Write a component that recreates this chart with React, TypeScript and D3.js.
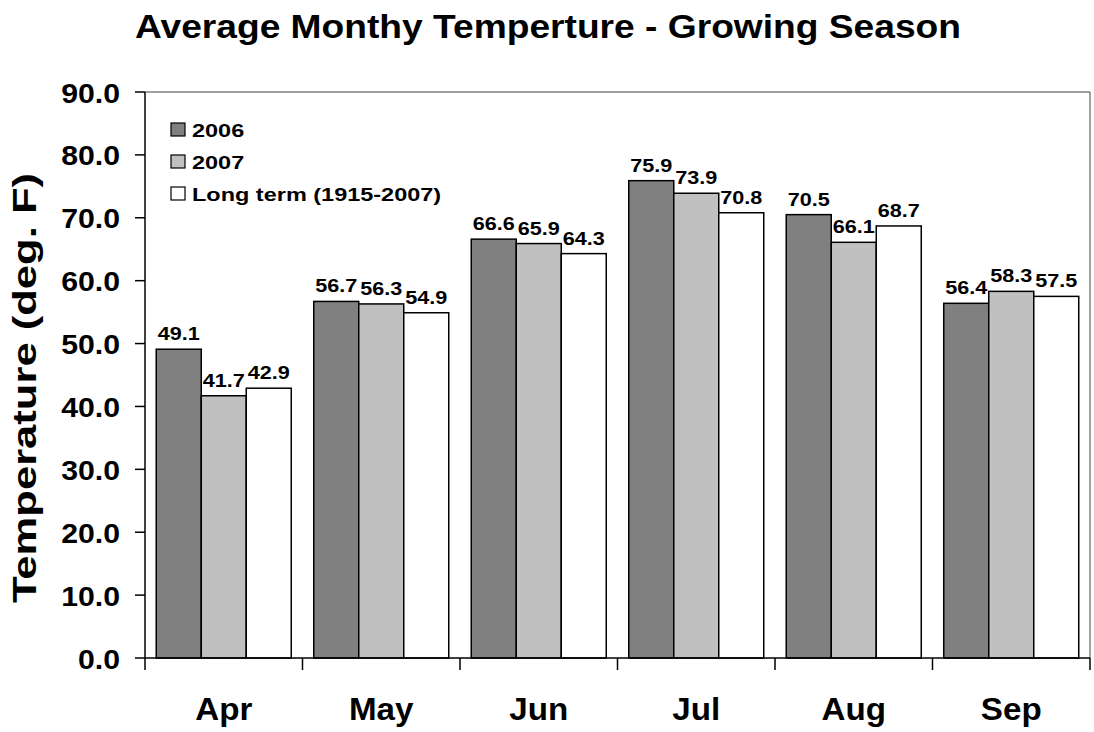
import React from "react";
import * as d3 from "d3";

const months = ["Apr", "May", "Jun", "Jul", "Aug", "Sep"];
const seriesNames = ["2006", "2007", "Long term (1915-2007)"];
const values2006 = [49.1, 56.7, 66.6, 75.9, 70.5, 56.4];
const values2007 = [41.7, 56.3, 65.9, 73.9, 66.1, 58.3];
const valuesLong = [42.9, 54.9, 64.3, 70.8, 68.7, 57.5];
const yTicks = [0, 10, 20, 30, 40, 50, 60, 70, 80, 90];
const colors = ["#808080", "#c0c0c0", "#ffffff"];

const W = 1094, H = 732;
const left = 145, right = 1090, top = 92, bottom = 658;
const font = "Arial, 'Liberation Sans', sans-serif";

function SText({ x, y, sx = 1, size, anchor = "start", children }: any) {
  return (
    <g transform={`translate(${x},${y}) scale(${sx},1)`}>
      <text x={0} y={0} textAnchor={anchor} fontFamily={font} fontWeight="bold" fontSize={size}>
        {children}
      </text>
    </g>
  );
}

export default function App() {
  const series = [values2006, values2007, valuesLong];
  const x0 = d3.scaleBand().domain(months).range([left, right]).paddingInner(0).paddingOuter(0);
  const y = d3.scaleLinear().domain([0, 90]).range([bottom, top]);
  const bw = x0.bandwidth() * (135 / 157.5) / 3;

  return (
    <svg width={W} height={H} style={{ position: "absolute", left: 0, top: 0, background: "#fff" }}>
      <rect x={0} y={0} width={W} height={H} fill="#fff" />
      <text x={135} y={38} fontFamily={font} fontWeight="bold" fontSize={34} textLength={826} lengthAdjust="spacingAndGlyphs">
        Average Monthy Temperture - Growing Season
      </text>
      {/* plot frame */}
      <line x1={left} x2={right} y1={top} y2={top} stroke="#808080" strokeWidth={1.5} />
      <line x1={right} x2={right} y1={top} y2={bottom} stroke="#808080" strokeWidth={1.5} />
      {/* bars */}
      {months.map((m, i) =>
        series.map((s, j) => {
          const gx = x0(m)! + (x0.bandwidth() - 3 * bw) / 2 + j * bw;
          return (
            <g key={m + j}>
              <rect x={gx} y={y(s[i])} width={bw} height={bottom - y(s[i])} fill={colors[j]} stroke="#000" strokeWidth={1.5} />
              <SText x={gx + bw / 2} y={y(s[i]) - 9} sx={1.17} size={18.5} anchor="middle">
                {s[i].toFixed(1)}
              </SText>
            </g>
          );
        })
      )}
      {/* axes */}
      <line x1={left} x2={left} y1={top} y2={bottom + 12} stroke="#000" strokeWidth={1.5} />
      <line x1={left} x2={right} y1={bottom} y2={bottom} stroke="#000" strokeWidth={1.5} />
      {yTicks.map((t) => (
        <g key={t}>
          <line x1={left - 10} x2={left} y1={y(t)} y2={y(t)} stroke="#000" strokeWidth={1.5} />
          <SText x={120} y={y(t) + 10.5} sx={1.1} size={27.5} anchor="end">
            {t.toFixed(1)}
          </SText>
        </g>
      ))}
      {months.map((m) => (
        <g key={m}>
          <line x1={x0(m)! + x0.bandwidth()} x2={x0(m)! + x0.bandwidth()} y1={bottom} y2={bottom + 12} stroke="#000" strokeWidth={1.5} />
          <SText x={x0(m)! + x0.bandwidth() / 2} y={720} sx={1.07} size={31} anchor="middle">
            {m}
          </SText>
        </g>
      ))}
      <text transform={`translate(36,388) rotate(-90)`} textAnchor="middle" fontFamily={font} fontWeight="bold" fontSize={33} textLength={430} lengthAdjust="spacingAndGlyphs">
        Temperature (deg. F)
      </text>
      {/* legend */}
      {seriesNames.map((n, j) => (
        <g key={n}>
          <rect x={171} y={123 + j * 32} width={14} height={13} fill={colors[j]} stroke="#000" strokeWidth={1.2} />
          <SText x={192} y={136.5 + j * 32} sx={1.27} size={18.5}>
            {n}
          </SText>
        </g>
      ))}
    </svg>
  );
}
